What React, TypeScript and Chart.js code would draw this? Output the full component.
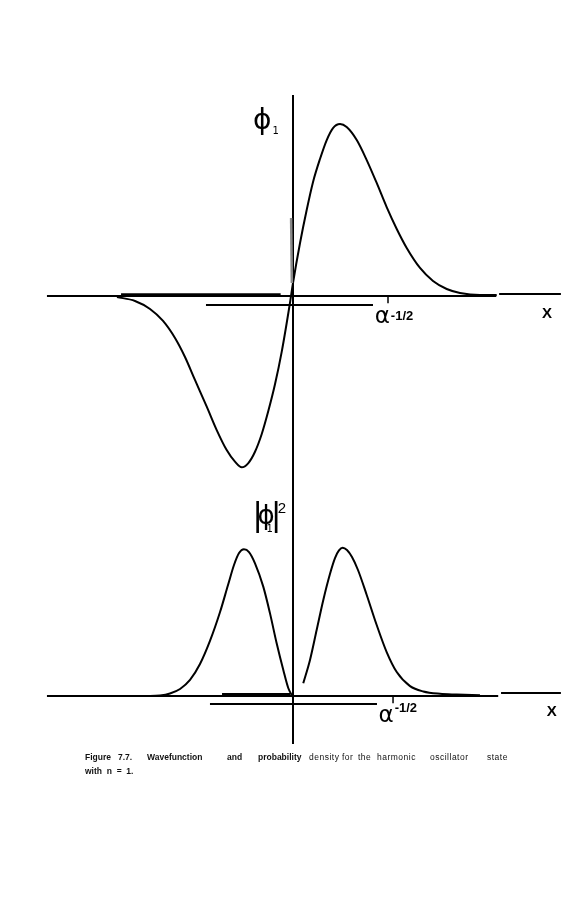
import React, { useEffect, useRef } from "react";
import { Chart, registerables } from "chart.js";
Chart.register(...registerables);

// x in units of alpha^-1/2, y normalised to peak = 1
const phiX = [-1.853, -1.663, -1.505, -1.368, -1.242, -1.137, -1.032, -0.908, -0.803, -0.698, -0.611, -0.54, -0.47, -0.4, -0.329, -0.26, -0.189, -0.119, -0.032, 0.0, 0.074, 0.144, 0.211, 0.284, 0.355, 0.421, 0.495, 0.565, 0.671, 0.776, 0.881, 0.986, 1.092, 1.197, 1.337, 1.474, 1.618, 1.758, 1.968, 2.144];
const phiY = [-0.006, -0.029, -0.076, -0.146, -0.246, -0.357, -0.491, -0.647, -0.784, -0.901, -0.969, -1.002, -0.977, -0.911, -0.807, -0.673, -0.515, -0.327, -0.041, 0.076, 0.31, 0.503, 0.667, 0.801, 0.912, 0.982, 1.006, 0.988, 0.912, 0.795, 0.661, 0.52, 0.392, 0.281, 0.164, 0.088, 0.041, 0.018, 0.006, 0.006];

const probLeftX = [-1.716, -1.505, -1.4, -1.295, -1.189, -1.084, -0.979, -0.874, -0.768, -0.684, -0.621, -0.568, -0.516, -0.463, -0.4, -0.313, -0.242, -0.172, -0.102, -0.049, -0.003];
const probLeftY = [0.0, 0.0, 0.003, 0.017, 0.048, 0.11, 0.219, 0.377, 0.575, 0.76, 0.897, 0.979, 1.005, 0.986, 0.909, 0.749, 0.566, 0.361, 0.178, 0.053, -0.005];

const probRightX = [0.108, 0.179, 0.249, 0.319, 0.389, 0.442, 0.484, 0.523, 0.568, 0.621, 0.684, 0.776, 0.881, 0.986, 1.092, 1.232, 1.372, 1.547, 1.723, 1.968];
const probRightY = [0.087, 0.247, 0.452, 0.658, 0.836, 0.945, 0.997, 1.016, 1.0, 0.952, 0.863, 0.692, 0.486, 0.301, 0.164, 0.068, 0.031, 0.015, 0.01, 0.005];

const captionLine1 = ["Figure", "7.7.", "Wavefunction", "and", "probability", "density", "for", "the", "harmonic", "oscillator", "state"];
const captionLine2 = "with  n  =  1.";

const W = 570;
const H = 898;

const pts = (xs: number[], ys: number[]) => xs.map((x, i) => ({ x, y: ys[i] }));

const overlay = {
  id: "overlay",
  afterDatasetsDraw(chart: any) {
    const { ctx, scales } = chart;
    const X = (u: number) => scales.x.getPixelForValue(u);
    const T = (v: number) => scales.yTop.getPixelForValue(v);
    const B = (v: number) => scales.yBot.getPixelForValue(v);
    const seg = (x1: number, y1: number, x2: number, y2: number, w = 2, c = "#000") => {
      ctx.save();
      ctx.strokeStyle = c;
      ctx.lineWidth = w;
      ctx.beginPath();
      ctx.moveTo(x1, y1);
      ctx.lineTo(x2, y2);
      ctx.stroke();
      ctx.restore();
    };
    const text = (s: string, x: number, y: number, font: string, c = "#000") => {
      ctx.save();
      ctx.font = font;
      ctx.fillStyle = c;
      ctx.textBaseline = "alphabetic";
      ctx.textAlign = "left";
      ctx.fillText(s, x, y);
      ctx.restore();
    };

    // vertical axis through both panels
    seg(X(0), T(1.175), X(0), B(-0.329), 2);

    // top panel axes
    seg(X(-2.59), T(0), X(2.14), T(0), 2);
    seg(X(2.17), T(0.012), X(2.82), T(0.012), 2);
    seg(X(-1.81), T(0.008), X(-0.13), T(0.008), 3);
    seg(X(-0.916), T(-0.053), X(0.842), T(-0.053), 2);
    seg(X(1.0), T(0), X(1.0), T(-0.042), 1.5);
    seg(X(-0.02), T(0.456), X(-0.012), T(0.076), 2.5, "#888");

    // bottom panel axes
    seg(X(-2.59), B(0), X(2.16), B(0), 2);
    seg(X(2.19), B(0.02), X(2.82), B(0.02), 2);
    seg(X(-0.747), B(0.014), X(-0.03), B(0.014), 2);
    seg(X(-0.874), B(-0.055), X(0.884), B(-0.055), 2);
    seg(X(1.053), B(0), X(1.053), B(-0.05), 1.5);

    // axis labels
    text("X", X(2.62), T(-0.13), "bold 15px 'Liberation Sans'");
    text("X", X(2.67), B(-0.138), "bold 15px 'Liberation Sans'");

    text("α", X(0.86), T(-0.16), "23px 'DejaVu Sans'");
    text("-1/2", X(1.03), T(-0.14), "bold 13px 'Liberation Sans'");
    text("α", X(0.9), B(-0.178), "23px 'DejaVu Sans'");
    text("-1/2", X(1.07), B(-0.11), "bold 13px 'Liberation Sans'");

    // phi labels
    text("ϕ", X(-0.42), T(0.975), "28px 'DejaVu Sans'");
    text("1", X(-0.215), T(0.945), "10px 'DejaVu Sans'");

    text("|", X(-0.43), B(1.168), "32px 'DejaVu Sans'");
    text("ϕ", X(-0.375), B(1.18), "26px 'DejaVu Sans'");
    text("1", X(-0.28), B(1.12), "10px 'DejaVu Sans'");
    text("|", X(-0.235), B(1.168), "32px 'DejaVu Sans'");
    text("2", X(-0.16), B(1.253), "15px 'Liberation Sans'");

    // caption
    const capX = [85, 118, 147, 227, 258, 309, 342, 358, 377, 430, 487];
    captionLine1.forEach((w, i) => {
      const bold = i < 5;
      ctx.save();
      ctx.font = bold ? "bold 8.5px 'Liberation Sans'" : "8.5px 'Liberation Sans'";
      (ctx as any).letterSpacing = bold ? "0px" : "0.5px";
      ctx.fillStyle = "#111";
      ctx.fillText(w, capX[i], 760);
      ctx.restore();
    });
    ctx.save();
    ctx.font = "bold 8.5px 'Liberation Sans'";
    ctx.fillStyle = "#111";
    ctx.fillText(captionLine2, 85, 774);
    ctx.restore();
  },
};

export default function App() {
  const ref = useRef<HTMLCanvasElement | null>(null);
  useEffect(() => {
    if (!ref.current) return;
    const line = (data: any[], axis: string) => ({
      data,
      yAxisID: axis,
      showLine: true,
      borderColor: "#000",
      borderWidth: 2,
      pointRadius: 0,
      cubicInterpolationMode: "monotone",
      fill: false,
    });
    const chart = new Chart(ref.current, {
      type: "scatter",
      data: {
        datasets: [
          line(pts(phiX, phiY), "yTop"),
          line(pts(probLeftX, probLeftY), "yBot"),
          line(pts(probRightX, probRightY), "yBot"),
        ],
      },
      options: {
        responsive: false,
        maintainAspectRatio: false,
        animation: false,
        layout: { padding: 0 },
        plugins: { legend: { display: false }, tooltip: { enabled: false } },
        scales: {
          x: { type: "linear", display: false, min: -293 / 95, max: (W - 293) / 95 },
          yTop: { type: "linear", display: false, min: -(H - 296) / 171, max: 296 / 171 },
          yBot: { type: "linear", display: false, min: -(H - 696) / 146, max: 696 / 146 },
        },
      },
      plugins: [overlay],
    });
    return () => chart.destroy();
  }, []);
  return (
    <div style={{ position: "fixed", left: 0, top: 0, width: W, height: H, background: "#fff" }}>
      <canvas ref={ref} width={W} height={H} style={{ width: W, height: H, display: "block" }} />
    </div>
  );
}
